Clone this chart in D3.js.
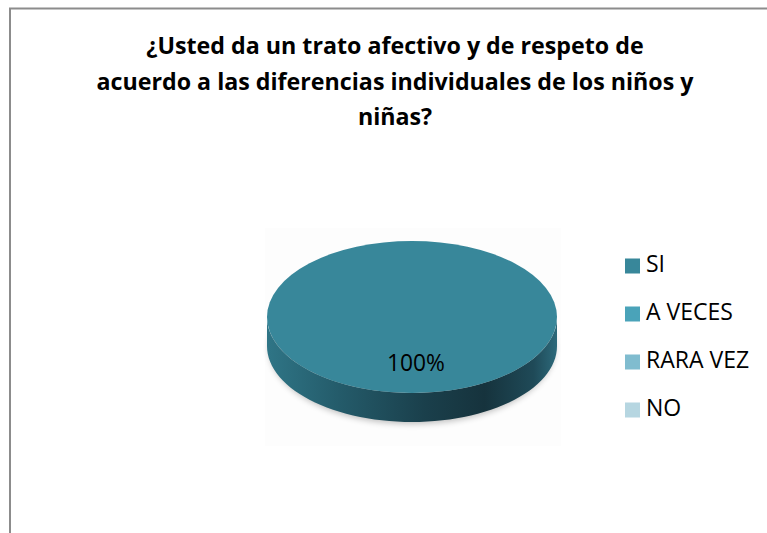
<!DOCTYPE html>
<html><head><meta charset="utf-8">
<script src="https://cdn.jsdelivr.net/npm/d3@7"></script>
<style>body{margin:0;background:#fff}svg{display:block}</style>
</head><body>
<svg id="c" width="767" height="533"></svg>
<script>
const categories = ["SI", "A VECES", "RARA VEZ", "NO"];
const values = [100, 0, 0, 0];
const labels = ["100%", "", "", ""];
const colors = ["#38879a", "#4aa3b9", "#80bccf", "#b6d6e1"];
const titleLines = ["¿Usted da un trato afectivo y de respeto de", "acuerdo a las diferencias individuales de los niños y", "niñas?"];

const svg = d3.select("#c");
const font = "'Open Sans', sans-serif";

function fit(sel, target) {
  const w = sel.node().getComputedTextLength();
  const fs = parseFloat(sel.attr("font-size"));
  sel.attr("font-size", (fs * target / w).toFixed(2));
}

// frame
svg.append("path").attr("d", "M10,533 V8.5 H767").attr("fill", "none").attr("stroke", "#8c8c8c").attr("stroke-width", 2);

// title
const tt = svg.append("g").selectAll("text").data(titleLines).join("text")
  .attr("x", 395).attr("y", (d, i) => 54 + i * 35.5)
  .attr("text-anchor", "middle").attr("font-family", font).attr("font-weight", "bold")
  .attr("font-size", 21).attr("fill", "#000").text(d => d);
fit(d3.select(tt.nodes()[1]), 597);
tt.attr("font-size", d3.select(tt.nodes()[1]).attr("font-size"));

// 3D pie
const cx = 412, cy = 317, rx = 145, ry = 76, depth = 29;
const defs = svg.append("defs");
const sideGrad = defs.append("linearGradient").attr("id", "side").attr("x1", 0).attr("x2", 1).attr("y1", 0).attr("y2", 0);
[[0, "#2f7586"], [0.25, "#245b6a"], [0.55, "#1a3f4b"], [0.75, "#16333d"], [0.92, "#1f4a58"], [1, "#2d6a7b"]]
  .forEach(([o, c]) => sideGrad.append("stop").attr("offset", o).attr("stop-color", c));
defs.append("filter").attr("id", "blur").attr("x", "-20%").attr("y", "-20%").attr("width", "140%").attr("height", "140%")
  .append("feGaussianBlur").attr("stdDeviation", 3);

// faint plot background
svg.append("rect").attr("x", 265).attr("y", 228).attr("width", 296).attr("height", 218).attr("fill", "#fdfdfd");

const pie = d3.pie().sort(null).startAngle(0).endAngle(2 * Math.PI)(values);
const k = ry / rx;

// shadow
svg.append("ellipse").attr("cx", cx).attr("cy", cy + depth + 2).attr("rx", rx - 2).attr("ry", ry)
  .attr("fill", "#000").attr("opacity", 0.25).attr("filter", "url(#blur)");

// side walls (front half)
const ex = a => cx + rx * Math.sin(a), ey = a => cy - ry * Math.cos(a);
const sideG = svg.append("g");
pie.forEach((d, i) => {
  if (d.value <= 0) return;
  const a0 = Math.max(d.startAngle, Math.PI / 2), a1 = Math.min(d.endAngle, 3 * Math.PI / 2);
  if (a1 <= a0) return;
  const n = 60;
  const pts = d3.range(n + 1).map(j => a0 + (a1 - a0) * j / n);
  let p = "M" + pts.map(a => [ex(a), ey(a)].join(",")).join("L");
  p += "L" + pts.slice().reverse().map(a => [ex(a), ey(a) + depth].join(",")).join("L") + "Z";
  sideG.append("path").attr("d", p).attr("fill", i === 0 ? "url(#side)" : d3.color(colors[i]).darker(1.2));
});

// top face
const arc = d3.arc().innerRadius(0).outerRadius(rx);
const topG = svg.append("g").attr("transform", `translate(${cx},${cy}) scale(1,${k})`);
topG.selectAll("path").data(pie.filter(d => d.value > 0)).join("path")
  .attr("d", arc).attr("fill", d => colors[d.index]);

// labels
pie.forEach((d, i) => {
  if (d.value <= 0) return;
  const full = d.endAngle - d.startAngle >= 2 * Math.PI - 1e-6;
  const mid = (d.startAngle + d.endAngle) / 2;
  const lx = full ? cx + 4 : cx + rx * 0.6 * Math.sin(mid);
  const ly = full ? cy + 48 : cy - ry * 0.6 * Math.cos(mid);
  const t = svg.append("text").attr("x", lx).attr("y", ly).attr("text-anchor", "middle").attr("dominant-baseline", "middle")
    .attr("font-family", font).attr("font-size", 19).attr("fill", "#000").text(labels[i]);
  fit(t, 58);
});

// legend
const lg = svg.append("g");
let legFs = null;
categories.forEach((c, i) => {
  const y = 266 + i * 48;
  lg.append("rect").attr("x", 625).attr("y", y - 7.5).attr("width", 15).attr("height", 15).attr("fill", colors[i]);
  const t = lg.append("text").attr("x", 646).attr("y", y).attr("dominant-baseline", "middle")
    .attr("font-family", font).attr("font-size", 19).attr("fill", "#000").text(c);
  if (i === 1) { fit(t, 87); legFs = t.attr("font-size"); }
});
lg.selectAll("text").attr("font-size", legFs);
</script>
</body></html>
